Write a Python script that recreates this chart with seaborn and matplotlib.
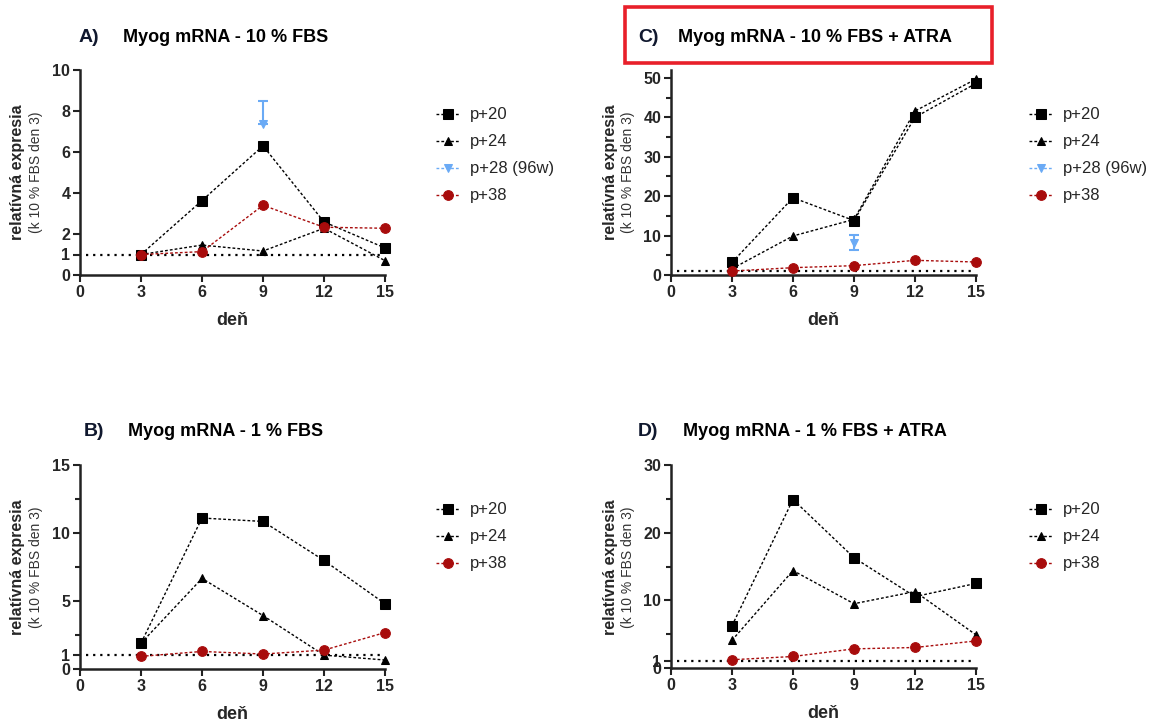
import numpy as np
import pandas as pd
import matplotlib.pyplot as plt
import seaborn as sns
from matplotlib.patches import Rectangle

days = [3, 6, 9, 12, 15]
series = ["p+20", "p+24", "p+28 (96w)", "p+38"]

# A) 10 % FBS
a_p20 = [1.0, 3.63, 6.30, 2.59, 1.32]
a_p24 = [1.0, 1.46, 1.17, 2.28, 0.70]
a_p28 = [7.35]
a_p28_err = [[0.0], [1.14]]  # only the upper whisker is visible
a_p38 = [1.0, 1.14, 3.40, 2.33, 2.28]

# C) 10 % FBS + ATRA
c_p20 = [3.2, 19.6, 13.8, 40.0, 48.6]
c_p24 = [1.6, 9.9, 14.1, 41.6, 49.7]
c_p28 = [8.2]
c_p28_err = [[1.9], [1.9]]
c_p38 = [1.0, 1.86, 2.37, 3.72, 3.3]

# B) 1 % FBS
b_p20 = [1.9, 11.1, 10.85, 7.98, 4.8]
b_p24 = [1.9, 6.66, 3.93, 1.02, 0.66]
b_p38 = [0.93, 1.29, 1.10, 1.39, 2.68]

# D) 1 % FBS + ATRA
d_p20 = [6.25, 24.9, 16.3, 10.55, 12.5]
d_p24 = [4.1, 14.4, 9.5, 11.3, 4.9]
d_p38 = [1.22, 1.70, 2.83, 3.03, 4.0]

colors = {"p+20": "black", "p+24": "black", "p+28 (96w)": "#6aaaf5", "p+38": "#a80c0c"}
markers = {"p+20": "s", "p+24": "^", "p+28 (96w)": "v", "p+38": "o"}
msizes = {"p+20": 7, "p+24": 6, "p+28 (96w)": 6, "p+38": 7}

sns.set_style("white")
plt.rcParams["font.family"] = ["Liberation Sans", "DejaVu Sans"]

W, H = 1149, 725
fig = plt.figure(figsize=(W / 100, H / 100), dpi=100)


def fbox(left, top, right, bottom):
    return [left / W, 1 - bottom / H, (right - left) / W, (bottom - top) / H]


def draw_panel(rect, data, p28, p28_err, ylim, yticks, minor, legend_xy):
    ax = fig.add_axes(rect)
    ax.hlines(1, 0.3, 14.8, colors="black", linestyles=(0, (1, 2.2)), linewidth=1.6, zorder=1)
    for name, vals in data.items():
        sns.lineplot(x=days, y=vals, ax=ax, color=colors[name], marker=markers[name],
                     markersize=msizes[name], markeredgecolor=colors[name],
                     linestyle=(0, (2, 1.5)), linewidth=1.0, label=name, zorder=3,
                     clip_on=False)
    if p28 is not None:
        name = "p+28 (96w)"
        ax.errorbar([9], p28, yerr=p28_err, fmt="none", ecolor=colors[name],
                    elinewidth=1.5, capsize=3.5, capthick=1.5, zorder=4)
        sns.lineplot(x=[9], y=p28, ax=ax, color=colors[name], marker=markers[name],
                     markersize=msizes[name], markeredgecolor=colors[name],
                     linestyle=(0, (2, 1.5)), linewidth=1.0, label=name, zorder=5)
    handles, labels = ax.get_legend_handles_labels()
    order = [labels.index(s) for s in series if s in labels]
    ax.legend([handles[i] for i in order], [labels[i] for i in order],
              loc="upper left", bbox_to_anchor=(legend_xy[0] / W, 1 - legend_xy[1] / H),
              bbox_transform=fig.transFigure, frameon=False, fontsize=12,
              handlelength=1.4, handletextpad=0.6, labelspacing=0.72, borderpad=0)
    ax.set_xlim(0, 15)
    ax.set_ylim(*ylim)
    ax.set_xticks([0] + days)
    ax.set_yticks(yticks)
    if minor:
        ax.set_yticks(minor, minor=True)
    for side in ["top", "right"]:
        ax.spines[side].set_visible(False)
    for side in ["left", "bottom"]:
        ax.spines[side].set_linewidth(1.8)
        ax.spines[side].set_color("#222222")
    ax.tick_params(axis="both", which="major", direction="out", length=5, width=1.5,
                   color="#222222", labelsize=11.5, pad=2, left=True, bottom=True)
    ax.tick_params(axis="y", which="minor", direction="out", length=3.5, width=1.5,
                   color="#222222", left=True)
    for lab in ax.get_xticklabels() + ax.get_yticklabels():
        lab.set_fontweight("bold")
    ax.set_xlabel("deň", fontsize=13, fontweight="bold", labelpad=9)
    ax.set_ylabel("")
    return ax


draw_panel(fbox(80, 70, 385, 275),
           {"p+20": a_p20, "p+24": a_p24, "p+38": a_p38}, a_p28, a_p28_err,
           (0, 10), [0, 1, 2, 4, 6, 8, 10], None, (428, 99))
draw_panel(fbox(671, 70, 976, 275),
           {"p+20": c_p20, "p+24": c_p24, "p+38": c_p38}, c_p28, c_p28_err,
           (0, 52), [0, 10, 20, 30, 40, 50], [5, 15, 25, 35, 45], (1021, 99))
draw_panel(fbox(80, 465, 385, 669),
           {"p+20": b_p20, "p+24": b_p24, "p+38": b_p38}, None, None,
           (0, 15), [0, 1, 5, 10, 15], [2.5, 7.5, 12.5], (428, 494))
draw_panel(fbox(671, 465, 976, 668),
           {"p+20": d_p20, "p+24": d_p24, "p+38": d_p38}, None, None,
           (0, 30), [0, 1, 10, 20, 30], [5, 15, 25], (1021, 494))

# panel titles
titles = [("A)", 79, 123, 38, "Myog mRNA - 10 % FBS"),
          ("C)", 638, 678, 38, "Myog mRNA - 10 % FBS + ATRA"),
          ("B)", 84, 128, 432, "Myog mRNA - 1 % FBS"),
          ("D)", 638, 683, 432, "Myog mRNA - 1 % FBS + ATRA")]
for letter, lx, tx, ty, text in titles:
    fig.text(lx / W, 1 - ty / H, letter, fontsize=14, fontweight="bold",
             color="#10182e", va="center", ha="left")
    fig.text(tx / W, 1 - ty / H, text, fontsize=13, fontweight="bold",
             color="black", va="center", ha="left")

fig.patches.append(Rectangle((625 / W, 1 - 63 / H), (992 - 625) / W, (63 - 7) / H,
                             transform=fig.transFigure, fill=False,
                             edgecolor="#e8202a", linewidth=2.6))

# y labels
for xc, yc in [(18, 172), (610, 172), (18, 567), (610, 567)]:
    fig.text(xc / W, 1 - yc / H, "relatívná expresia", rotation=90, fontsize=11.5,
             fontweight="bold", va="center", ha="center")
    fig.text((xc + 18) / W, 1 - yc / H, "(k 10 % FBS den 3)", rotation=90, fontsize=10,
             color="#333333", va="center", ha="center")

fig.savefig("out.png", dpi=100)
